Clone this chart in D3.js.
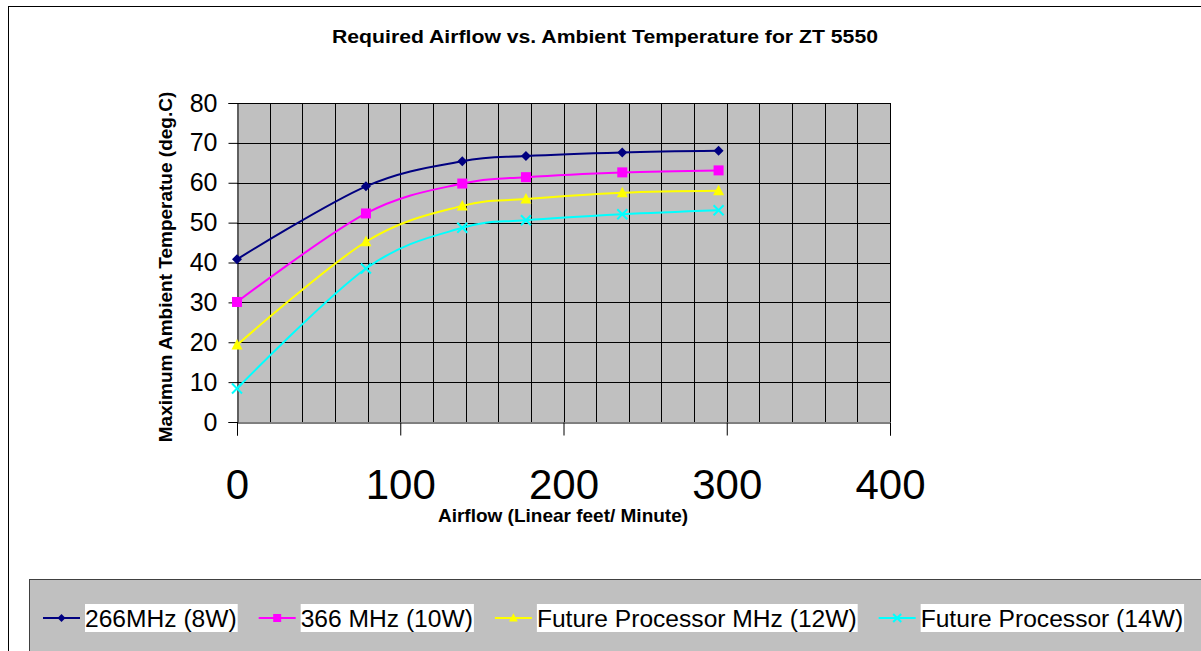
<!DOCTYPE html>
<html>
<head>
<meta charset="utf-8">
<script src="https://cdn.jsdelivr.net/npm/d3@7"></script>
<style>
  body { margin: 0; background: #fff; }
  text { font-family: Arial, "Liberation Sans", sans-serif; }
</style>
</head>
<body>
<div id="chart"></div>
<script>
// Airflow values (linear feet / minute)
const airflow = [0, 79, 138, 177, 236, 295];

// Max ambient temperature per processor (deg C)
const s266 = [40.8, 59.1, 65.4, 66.7, 67.6, 68.0];
const s366 = [30.1, 52.3, 59.8, 61.4, 62.6, 63.1];
const s12w = [19.3, 45.2, 54.2, 55.9, 57.5, 58.0];
const s14w = [8.4, 38.5, 48.7, 50.6, 52.1, 53.1];

const seriesNames = ["266MHz (8W)", "366 MHz (10W)", "Future Processor MHz (12W)", "Future Processor (14W)"];
const xTicks = [0, 100, 200, 300, 400];
const yTicks = [0, 10, 20, 30, 40, 50, 60, 70, 80];

const width = 1201;
const height = 651;
const plot = { left: 237, right: 890, top: 103, bottom: 422 };

const svg = d3.select("#chart")
    .append("svg")
    .attr("width", width)
    .attr("height", height);

// chart frame (runs off the right and bottom edges)
svg.append("rect")
    .attr("x", 8.5).attr("y", 6.5)
    .attr("width", 1220).attr("height", 680)
    .attr("fill", "#fff").attr("stroke", "#000");

const x = d3.scaleLinear().domain([0, 400]).range([plot.left, plot.right]);
const y = d3.scaleLinear().domain([0, 80]).range([plot.bottom, plot.top]);

// plot background
svg.append("rect")
    .attr("x", plot.left).attr("y", plot.top)
    .attr("width", plot.right - plot.left).attr("height", plot.bottom - plot.top)
    .attr("fill", "#c0c0c0");

// vertical grid every 20, horizontal every 10
svg.append("g")
    .selectAll("line")
    .data(d3.range(20, 401, 20))
    .enter()
    .append("line")
    .attr("x1", d => Math.round(x(d)) + 0.5).attr("x2", d => Math.round(x(d)) + 0.5)
    .attr("y1", plot.top).attr("y2", plot.bottom)
    .attr("stroke", "#000").attr("stroke-width", 1);

svg.append("g")
    .selectAll("line")
    .data(yTicks.slice(1))
    .enter()
    .append("line")
    .attr("x1", plot.left).attr("x2", plot.right)
    .attr("y1", d => Math.round(y(d)) + 0.5).attr("y2", d => Math.round(y(d)) + 0.5)
    .attr("stroke", "#000").attr("stroke-width", 1);

// y axis
const yAxis = svg.append("g")
    .attr("transform", `translate(${Math.round(plot.left) + 0.5},0)`)
    .call(d3.axisLeft(y).tickValues(yTicks).tickSize(9).tickPadding(11));
yAxis.select(".domain").attr("stroke", "#000");
yAxis.selectAll(".tick line").attr("stroke", "#000");
yAxis.selectAll(".tick text")
    .attr("font-size", 25).attr("fill", "#000")
    .style("font-family", "Arial, 'Liberation Sans', sans-serif");

// x axis
const xAxis = svg.append("g")
    .attr("transform", `translate(0,${Math.round(plot.bottom) + 0.5})`)
    .call(d3.axisBottom(x).tickValues(xTicks).tickSize(13).tickPadding(51));
xAxis.select(".domain").attr("stroke", "#000");
xAxis.selectAll(".tick line").attr("stroke", "#000");
xAxis.selectAll(".tick text")
    .attr("font-size", 42).attr("fill", "#000").attr("dy", "0.3em")
    .style("font-family", "Arial, 'Liberation Sans', sans-serif");

// titles
svg.append("text")
    .attr("x", 605).attr("y", 43)
    .attr("text-anchor", "middle")
    .attr("font-size", 18).attr("font-weight", "bold")
    .attr("textLength", 546).attr("lengthAdjust", "spacingAndGlyphs")
    .text("Required Airflow vs. Ambient Temperature for ZT 5550");

svg.append("text")
    .attr("x", 563).attr("y", 522)
    .attr("text-anchor", "middle")
    .attr("font-size", 19).attr("font-weight", "bold")
    .text("Airflow (Linear feet/ Minute)");

svg.append("text")
    .attr("transform", "translate(172,267) rotate(-90)")
    .attr("text-anchor", "middle")
    .attr("font-size", 19).attr("font-weight", "bold")
    .text("Maximum Ambient Temperatue (deg.C)");

// series
const series = [
    { name: seriesNames[0], values: s266, color: "#000080", marker: "diamond" },
    { name: seriesNames[1], values: s366, color: "#ff00ff", marker: "square" },
    { name: seriesNames[2], values: s12w, color: "#ffff00", marker: "triangle" },
    { name: seriesNames[3], values: s14w, color: "#00ffff", marker: "x" }
];

const line = d3.line()
    .x((d, i) => x(airflow[i]))
    .y(d => y(d))
    .curve(d3.curveCatmullRom.alpha(0));

function drawMarker(g, type, color, s) {
    if (type === "diamond") {
        g.append("path").attr("d", `M0,${-s}L${s},0L0,${s}L${-s},0Z`).attr("fill", color);
    } else if (type === "square") {
        g.append("rect").attr("x", -s).attr("y", -s)
            .attr("width", s * 2).attr("height", s * 2).attr("fill", color);
    } else if (type === "triangle") {
        g.append("path").attr("d", `M0,${-s * 1.2}L${s * 1.1},${s * 0.9}L${-s * 1.1},${s * 0.9}Z`).attr("fill", color);
    } else {
        g.append("path").attr("d", `M${-s},${-s}L${s},${s}M${-s},${s}L${s},${-s}`)
            .attr("stroke", color).attr("stroke-width", 2).attr("fill", "none");
    }
}

series.forEach(s => {
    svg.append("path")
        .datum(s.values)
        .attr("d", line)
        .attr("fill", "none")
        .attr("stroke", s.color)
        .attr("stroke-width", 2);
    s.values.forEach((v, i) => {
        const g = svg.append("g").attr("transform", `translate(${x(airflow[i])},${y(v)})`);
        drawMarker(g, s.marker, s.color, 5);
    });
});

// legend
svg.append("rect")
    .attr("x", 29.5).attr("y", 579.5)
    .attr("width", 1200).attr("height", 100)
    .attr("fill", "#c0c0c0").attr("stroke", "#404040");

let cx = 43;
const ly = 618;
series.forEach(s => {
    const g = svg.append("g");
    g.append("line")
        .attr("x1", cx).attr("x2", cx + 37)
        .attr("y1", ly).attr("y2", ly)
        .attr("stroke", s.color).attr("stroke-width", 2);
    const m = g.append("g").attr("transform", `translate(${cx + 18.5},${ly})`);
    drawMarker(m, s.marker, s.color, 4);
    const bg = g.append("rect").attr("fill", "#fff");
    const t = g.append("text")
        .attr("x", cx + 42).attr("y", ly + 9)
        .attr("font-size", 24.6)
        .text(s.name);
    const w = t.node().getComputedTextLength();
    bg.attr("x", cx + 42).attr("y", 604).attr("width", w + 1).attr("height", 28);
    cx += 42 + w + 22;
});
</script>
</body>
</html>
